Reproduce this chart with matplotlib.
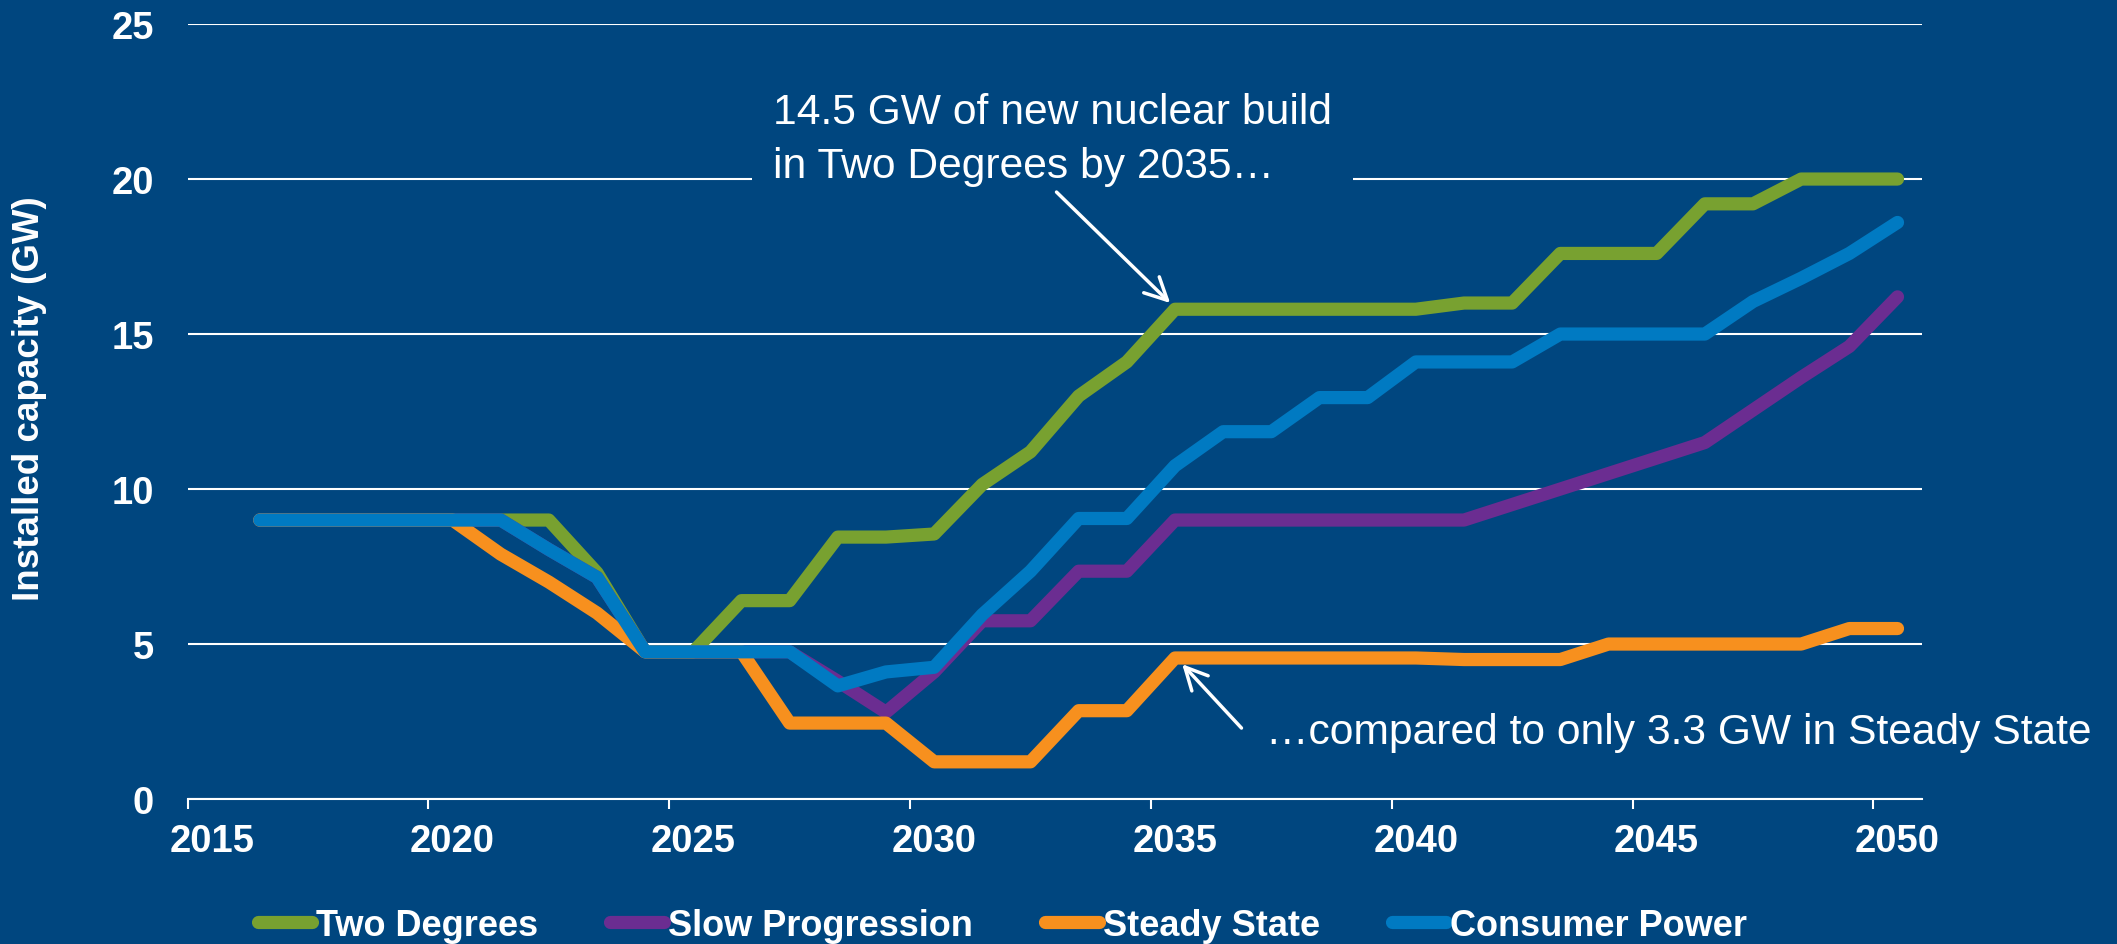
import matplotlib.pyplot as plt

plt.rcParams['font.family'] = ['Liberation Sans', 'DejaVu Sans']

# data (GW)
years = list(range(2016, 2051))
two_degrees = [9.0, 9.0, 9.0, 9.0, 9.0, 9.0, 9.0, 7.3, 4.75, 4.75,
               6.4, 6.4, 8.45, 8.45, 8.55, 10.15, 11.2, 13.0, 14.1, 15.8,
               15.8, 15.8, 15.8, 15.8, 15.8, 16.0, 16.0, 17.6, 17.6, 17.6,
               19.2, 19.2, 20.0, 20.0, 20.0]
slow_progression = [9.0, 9.0, 9.0, 9.0, 9.0, 9.0, 8.05, 7.15, 4.75, 4.75,
                    4.75, 4.75, 3.8, 2.8, 4.1, 5.75, 5.75, 7.35, 7.35, 9.0,
                    9.0, 9.0, 9.0, 9.0, 9.0, 9.0, 9.5, 10.0, 10.5, 11.0,
                    11.5, 12.55, 13.6, 14.6, 16.2]
steady_state = [9.0, 9.0, 9.0, 9.0, 9.0, 7.9, 7.0, 6.0, 4.75, 4.75,
                4.75, 2.45, 2.45, 2.45, 1.2, 1.2, 1.2, 2.85, 2.85, 4.55,
                4.55, 4.55, 4.55, 4.55, 4.55, 4.5, 4.5, 4.5, 5.0, 5.0,
                5.0, 5.0, 5.0, 5.5, 5.5]
consumer_power = [9.0, 9.0, 9.0, 9.0, 9.0, 9.0, 8.05, 7.15, 4.75, 4.75,
                  4.75, 4.75, 3.65, 4.1, 4.25, 5.95, 7.35, 9.05, 9.05, 10.75,
                  11.85, 11.85, 12.95, 12.95, 14.1, 14.1, 14.1, 15.0, 15.0, 15.0,
                  15.0, 16.05, 16.8, 17.6, 18.6]

names = ['Two Degrees', 'Slow Progression', 'Steady State', 'Consumer Power']
series = [two_degrees, slow_progression, steady_state, consumer_power]
colors = ['#78A130', '#6B2D91', '#F7901E', '#007AC2']
bg = '#00467F'

x_labels = [2015, 2020, 2025, 2030, 2035, 2040, 2045, 2050]

fig = plt.figure(figsize=(21.17, 9.45), dpi=100, facecolor=bg)
ax = fig.add_axes([0.0886, 0.1534, 0.8191, 0.8201])
ax.set_facecolor(bg)

for name, vals, col in zip(names, series, colors):
    ax.plot(years, vals, color=col, lw=9.5, solid_capstyle='round',
            solid_joinstyle='round', label=name)

# y axis + grid
ax.set_ylim(0, 25)
ax.set_yticks([0, 5, 10, 15, 20, 25])
ax.yaxis.grid(True, color='white', lw=1.5)
ax.set_axisbelow(True)
ax.tick_params(axis='y', length=0, pad=24, labelsize=27.5, labelcolor='white')
for t in ax.get_yticklabels():
    t.set_fontweight('bold')

# x axis: tick marks between categories, labels on categories
ax.set_xlim(2014.5, 2050.5)
ax.set_xticks([y - 0.5 for y in x_labels])
ax.set_xticklabels([])
ax.set_xticks(x_labels, [str(y) for y in x_labels], minor=True)
ax.tick_params(axis='x', which='major', length=7, width=1.5, color='white')
ax.tick_params(axis='x', which='minor', length=0, pad=17, labelsize=27.5,
               labelcolor='white')
for t in ax.get_xticklabels(minor=True):
    t.set_fontweight('bold')

for s in ['top', 'right', 'left']:
    ax.spines[s].set_visible(False)
ax.spines['bottom'].set_color('white')
ax.spines['bottom'].set_linewidth(1.5)

fig.text(30 / 2117, 1 - 399 / 945, 'Installed capacity (GW)', rotation=90,
         ha='center', va='center', fontsize=26.5, fontweight='bold', color='white')

# annotations (box hides the gridline behind the text, arrows drawn on top)
ax.text(0.3651, 0.852, '14.5 GW of new nuclear build\nin Two Degrees by 2035\u2026',
        transform=fig.transFigure, ha='left', va='center', fontsize=30.7,
        color='white', zorder=4, linespacing=1.45,
        bbox=dict(boxstyle='square,pad=0.5', fc=bg, ec='none'))
ax.text(0.598, 0.2243, '\u2026compared to only 3.3 GW in Steady State',
        transform=fig.transFigure, ha='left', va='center', fontsize=30.7,
        color='white', zorder=4)

arrow = dict(arrowstyle='->,head_length=0.8,head_width=0.4', color='white',
             lw=2.5, shrinkA=0, shrinkB=0, mutation_scale=20)
ax.annotate('', xy=(2034.9, 16.0), xytext=(2032.54, 19.58), arrowprops=arrow,
            zorder=6)
ax.annotate('', xy=(2035.15, 4.35), xytext=(2036.38, 2.29), arrowprops=arrow,
            zorder=6)

ax.legend(loc='center', bbox_to_anchor=(0.4735, 0.020), bbox_transform=fig.transFigure,
          ncol=4, frameon=False, handlelength=1.5, handletextpad=0.1,
          columnspacing=2.0, labelcolor='white',
          prop=dict(family='Liberation Sans', weight='bold', size=26))

fig.savefig('out.png', dpi=100, facecolor=bg)
